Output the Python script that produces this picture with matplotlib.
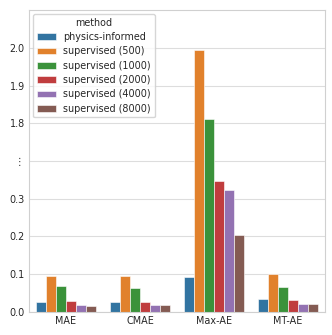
import numpy as np
import pandas as pd
import matplotlib
matplotlib.use("Agg")
import matplotlib.pyplot as plt
import seaborn as sns

metrics = ["MAE", "CMAE", "Max-AE", "MT-AE"]
methods = ["physics-informed", "supervised (500)", "supervised (1000)",
           "supervised (2000)", "supervised (4000)", "supervised (8000)"]

# one list per method, values in metric order
physics_informed = [0.027, 0.026, 0.092, 0.033]
sup_500 = [0.096, 0.094, 1.995, 0.100]
sup_1000 = [0.068, 0.064, 1.810, 0.067]
sup_2000 = [0.028, 0.027, 0.346, 0.032]
sup_4000 = [0.019, 0.019, 0.322, 0.022]
sup_8000 = [0.016, 0.017, 0.203, 0.020]

ytick_vals = [0.0, 0.1, 0.2, 0.3, 1.05, 1.8, 1.9, 2.0]
ytick_labels = ["0.0", "0.1", "0.2", "0.3", "\u22ee", "1.8", "1.9", "2.0"]

series = [physics_informed, sup_500, sup_1000, sup_2000, sup_4000, sup_8000]
rows = []
for m, vals in zip(methods, series):
    for k, v in zip(metrics, vals):
        rows.append({"metric": k, "method": m, "value": v})
df = pd.DataFrame(rows)

# squash the empty range between 0.35 and 1.75
xp = [-1.0, 0.35, 1.75, 3.0]
fp = [-1.0, 0.35, 0.45, 1.7]


def forward(y):
    return np.interp(y, xp, fp)


def inverse(y):
    return np.interp(y, fp, xp)


sns.set_style("whitegrid", {"grid.color": "#dddddd", "axes.edgecolor": "#d0d0d0"})
plt.rcParams["font.size"] = 6.9

fig = plt.figure(figsize=(3.32, 3.35), dpi=100)
ax = fig.add_axes([0.087, 0.069, 0.892, 0.901])

sns.barplot(data=df, x="metric", y="value", hue="method", ax=ax,
            edgecolor="white", linewidth=0.4)

ax.set_yscale("function", functions=(forward, inverse))
ax.set_ylim(0, 2.1)
ax.set_yticks(ytick_vals)
ax.set_yticklabels(ytick_labels)
ax.set_xlabel("")
ax.set_ylabel("")
ax.tick_params(labelsize=6.9, length=0, pad=3)

leg = ax.legend(title="method", loc="upper left", fontsize=6.9,
                title_fontsize=6.9, borderaxespad=0.4, labelspacing=0.45)

fig.savefig("out.png", dpi=100)
